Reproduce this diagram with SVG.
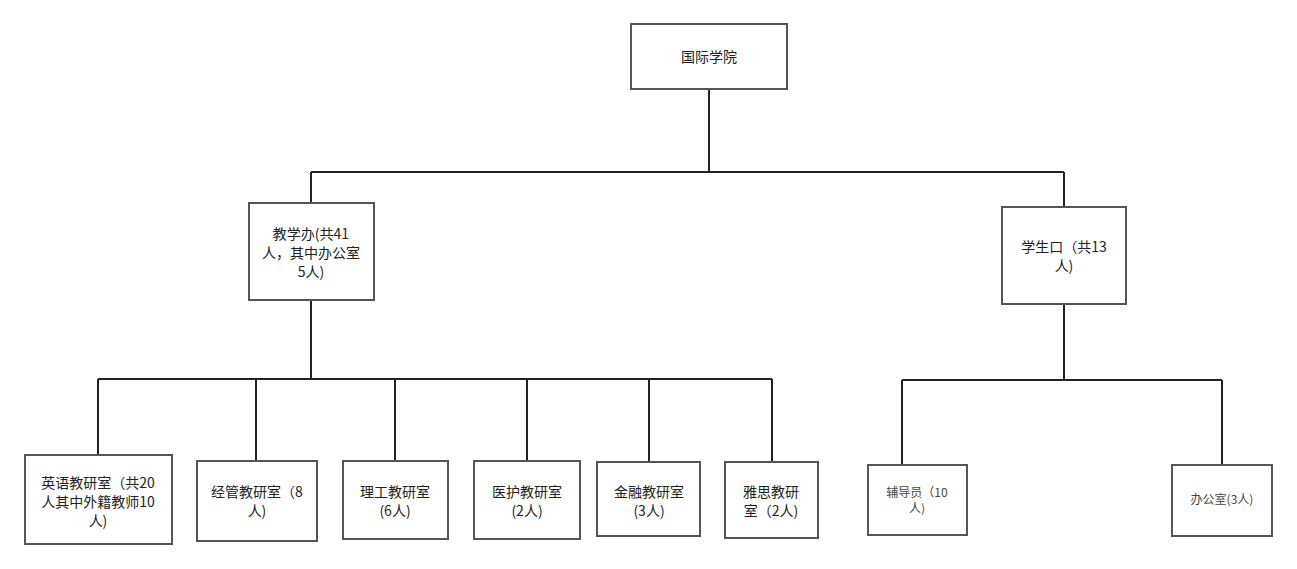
<svg xmlns="http://www.w3.org/2000/svg" width="1297" height="569" viewBox="0 0 1297 569">
<style>
rect{fill:#fff;stroke:#555;stroke-width:2}
.c path{fill:none;stroke:#222;stroke-width:2}
text{font-family:"Noto Sans CJK SC","Liberation Sans",sans-serif;font-size:14px;fill:#222;text-anchor:middle}
.s{font-size:12px;fill:#444}
</style>
<rect x="0" y="0" width="1297" height="569" style="stroke:none"/>
<g class="c">
<path d="M709 89V172M311 172H1064M311 172V203M1064 172V207"/>
<path d="M311 300V379M98 379H772M98 379V455M256 379V461M395 379V461M527 379V461M649 379V462M772 379V462"/>
<path d="M1064 304V380M902 380H1222M902 380V465M1222 380V465"/>
</g>
<g id="root"><rect x="631" y="24" width="156" height="65"/><text x="709" y="62">国际学院</text></g>
<g id="jxb"><rect x="249" y="203" width="125" height="97"/><text x="311" y="239">教学办(共41</text><text x="311" y="258">人，其中办公室</text><text x="311" y="277">5人)</text></g>
<g id="xsk"><rect x="1002" y="207" width="124" height="97"/><text x="1064" y="252">学生口（共13</text><text x="1064" y="271">人)</text></g>
<g id="yy"><rect x="25" y="455" width="147" height="89"/><text x="98" y="488">英语教研室（共20</text><text x="98" y="507">人其中外籍教师10</text><text x="98" y="526">人)</text></g>
<g id="jg"><rect x="197" y="461" width="120" height="80"/><text x="257" y="497">经管教研室（8</text><text x="257" y="516">人)</text></g>
<g id="lg"><rect x="343" y="461" width="105" height="78"/><text x="395" y="497">理工教研室</text><text x="395" y="516">(6人)</text></g>
<g id="yh"><rect x="474" y="461" width="106" height="78"/><text x="527" y="497">医护教研室</text><text x="527" y="516">(2人)</text></g>
<g id="jr"><rect x="597" y="462" width="103" height="74"/><text x="649" y="497">金融教研室</text><text x="649" y="516">(3人)</text></g>
<g id="ys"><rect x="725" y="462" width="93" height="76"/><text x="771" y="497">雅思教研</text><text x="771" y="516">室（2人)</text></g>
<g id="fdy"><rect x="868" y="465" width="99" height="70"/><text class="s" x="917" y="497">辅导员（10</text><text class="s" x="917" y="513">人)</text></g>
<g id="bgs"><rect x="1172" y="465" width="100" height="71"/><text class="s" x="1222" y="504">办公室(3人)</text></g>
</svg>
